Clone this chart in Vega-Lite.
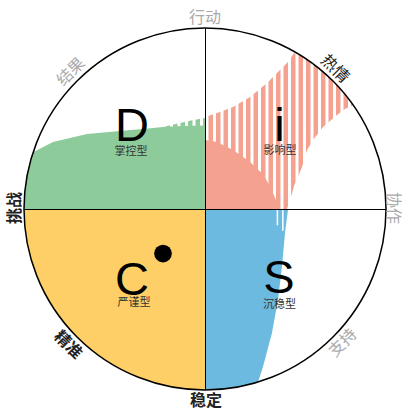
{
  "$schema": "https://vega.github.io/schema/vega-lite/v6.json",
  "width": 402,
  "height": 410,
  "autosize": "none",
  "padding": 0,
  "background": "white",
  "config": {"view": {"stroke": null}},
  "datasets": {
    "quadC": [{"x": 0, "y": 0, "t0": 3.14159, "t1": 4.71239, "r": 1}],
    "ring": [{"x": 0, "y": 0, "t0": 0, "t1": 6.2832, "r": 1}],
    "greenStripe": [
      {"x": -0.232, "y": 0.453, "y2": 0},
      {"x": -0.15, "y": 0.472, "y2": 0},
      {"x": -0.07, "y": 0.49, "y2": 0},
      {"x": 0, "y": 0.503, "y2": 0}
    ],
    "greenSolid": [
      {"x": -1.0, "y": 0, "y2": 0},
      {"x": -0.995, "y": 0.0999, "y2": 0},
      {"x": -0.99, "y": 0.141, "y2": 0},
      {"x": -0.98, "y": 0.199, "y2": 0},
      {"x": -0.97, "y": 0.243, "y2": 0},
      {"x": -0.96, "y": 0.28, "y2": 0},
      {"x": -0.95, "y": 0.313, "y2": 0},
      {"x": -0.84, "y": 0.37, "y2": 0},
      {"x": -0.652, "y": 0.414, "y2": 0},
      {"x": -0.47, "y": 0.431, "y2": 0},
      {"x": -0.287, "y": 0.448, "y2": 0},
      {"x": -0.232, "y": 0.453, "y2": 0},
      {"x": -0.12, "y": 0.458, "y2": 0},
      {"x": 0, "y": 0.462, "y2": 0}
    ],
    "dStripes": [
      {"x": -0.2265, "y": 0.3, "y2": 0.6}, {"x": -0.1851, "y": 0.3, "y2": 0.6}, {"x": -0.1436, "y": 0.3, "y2": 0.6},
      {"x": -0.1022, "y": 0.3, "y2": 0.6}, {"x": -0.0608, "y": 0.3, "y2": 0.6}, {"x": -0.0193, "y": 0.3, "y2": 0.6}
    ],
    "salmonStripe": [
      {"x": 0, "y": 0.508, "y2": 0},
      {"x": 0.083, "y": 0.536, "y2": 0},
      {"x": 0.155, "y": 0.564, "y2": 0},
      {"x": 0.249, "y": 0.619, "y2": 0},
      {"x": 0.343, "y": 0.696, "y2": 0},
      {"x": 0.398, "y": 0.751, "y2": 0},
      {"x": 0.453, "y": 0.807, "y2": 0},
      {"x": 0.47, "y": 0.829, "y2": 0.05},
      {"x": 0.492, "y": 0.862, "y2": 0.127},
      {"x": 0.536, "y": 0.844, "y2": 0.232},
      {"x": 0.564, "y": 0.826, "y2": 0.326},
      {"x": 0.597, "y": 0.802, "y2": 0.381},
      {"x": 0.652, "y": 0.758, "y2": 0.453},
      {"x": 0.729, "y": 0.684, "y2": 0.519},
      {"x": 0.773, "y": 0.634, "y2": 0.552},
      {"x": 0.815, "y": 0.579, "y2": 0.572}
    ],
    "iStripes": [
      {"x": 0.011, "y": 0, "y2": 0.95}, {"x": 0.0525, "y": 0, "y2": 0.95}, {"x": 0.0939, "y": 0, "y2": 0.95},
      {"x": 0.1354, "y": 0, "y2": 0.95}, {"x": 0.1768, "y": 0, "y2": 0.95}, {"x": 0.2182, "y": 0, "y2": 0.95},
      {"x": 0.2597, "y": 0, "y2": 0.95}, {"x": 0.3011, "y": 0, "y2": 0.95}, {"x": 0.3425, "y": 0, "y2": 0.95},
      {"x": 0.384, "y": 0, "y2": 0.95}, {"x": 0.4254, "y": 0, "y2": 0.95}, {"x": 0.4669, "y": 0, "y2": 0.95},
      {"x": 0.5083, "y": 0, "y2": 0.95}, {"x": 0.5497, "y": 0, "y2": 0.95}, {"x": 0.5912, "y": 0, "y2": 0.95},
      {"x": 0.6326, "y": 0, "y2": 0.95}, {"x": 0.674, "y": 0, "y2": 0.95}, {"x": 0.7155, "y": 0, "y2": 0.95},
      {"x": 0.7569, "y": 0, "y2": 0.95}, {"x": 0.7983, "y": 0, "y2": 0.95}, {"x": 0.8398, "y": 0, "y2": 0.95}
    ],
    "salmonSolid": [
      {"x": 0, "y": 0.381, "y2": 0},
      {"x": 0.066, "y": 0.37, "y2": 0},
      {"x": 0.155, "y": 0.326, "y2": 0},
      {"x": 0.249, "y": 0.26, "y2": 0},
      {"x": 0.32, "y": 0.193, "y2": 0},
      {"x": 0.365, "y": 0.116, "y2": 0},
      {"x": 0.392, "y": 0.05, "y2": 0},
      {"x": 0.403, "y": 0, "y2": 0}
    ],
    "blue": [
      {"x": 0, "y": -1.0, "y2": 0},
      {"x": 0.05, "y": -0.9987, "y2": 0},
      {"x": 0.1, "y": -0.995, "y2": 0},
      {"x": 0.15, "y": -0.9887, "y2": 0},
      {"x": 0.2, "y": -0.9798, "y2": 0},
      {"x": 0.25, "y": -0.9682, "y2": 0},
      {"x": 0.293, "y": -0.956, "y2": 0},
      {"x": 0.32, "y": -0.873, "y2": 0},
      {"x": 0.37, "y": -0.685, "y2": 0},
      {"x": 0.403, "y": -0.503, "y2": 0},
      {"x": 0.425, "y": -0.32, "y2": 0},
      {"x": 0.442, "y": -0.133, "y2": 0},
      {"x": 0.459, "y": 0, "y2": 0}
    ],
    "sStripes": [{"x": 0.4, "y": 0, "y2": -0.09}, {"x": 0.43, "y": 0, "y2": -0.12}],
    "vline": [{"x": 0.0028, "y": -1, "y2": 1}],
    "hline": [{"x": -1, "x2": 1, "y": -0.0028}],
    "letters": [
      {"label": "D", "x": -0.403, "y": 0.376},
      {"label": "i", "x": 0.412, "y": 0.376},
      {"label": "C", "x": -0.403, "y": -0.475},
      {"label": "S", "x": 0.409, "y": -0.464}
    ],
    "subtitles": [
      {"label": "掌控型", "x": -0.409, "y": 0.316},
      {"label": "影响型", "x": 0.414, "y": 0.318},
      {"label": "严谨型", "x": -0.392, "y": -0.52},
      {"label": "沉稳型", "x": 0.412, "y": -0.528}
    ],
    "labels": [
      {"label": "行动", "x": 0, "y": 1.055, "emph": "low"},
      {"label": "热情", "x": 0.718, "y": 0.773, "emph": "mid"},
      {"label": "协作", "x": 1.04, "y": 0.006, "emph": "low"},
      {"label": "支持", "x": 0.762, "y": -0.74, "emph": "low"},
      {"label": "稳定", "x": 0.006, "y": -1.061, "emph": "high"},
      {"label": "精准", "x": -0.757, "y": -0.751, "emph": "high"},
      {"label": "挑战", "x": -1.05, "y": 0.006, "emph": "high"},
      {"label": "结果", "x": -0.74, "y": 0.757, "emph": "low"}
    ],
    "dot": [{"x": -0.232, "y": -0.246}]
  },
  "encoding": {
    "x": {"field": "x", "type": "quantitative", "scale": {"domain": [-1.1326, 1.0884], "nice": false, "zero": false}, "axis": null},
    "y": {"field": "y", "type": "quantitative", "scale": {"domain": [-1.1105, 1.1547], "nice": false, "zero": false}, "axis": null}
  },
  "layer": [
    {
      "data": {"name": "quadC"},
      "mark": {"type": "arc", "color": "#fecf66"},
      "encoding": {
        "theta": {"field": "t0", "type": "quantitative", "scale": null, "stack": null},
        "theta2": {"field": "t1"},
        "radius": {"field": "r", "type": "quantitative", "scale": {"type": "linear", "domain": [0, 1], "range": [0, 181], "zero": true}}
      }
    },
    {
      "data": {"name": "greenStripe"},
      "mark": {"type": "area", "color": "#8ecb9b"},
      "encoding": {"y2": {"field": "y2"}}
    },
    {
      "data": {"name": "dStripes"},
      "mark": {"type": "rule", "color": "#ffffff", "strokeWidth": 3},
      "encoding": {"y2": {"field": "y2"}}
    },
    {
      "data": {"name": "greenSolid"},
      "mark": {"type": "area", "color": "#8ecb9b"},
      "encoding": {"y2": {"field": "y2"}}
    },
    {
      "data": {"name": "salmonStripe"},
      "mark": {"type": "area", "color": "#f4a190"},
      "encoding": {"y2": {"field": "y2"}}
    },
    {
      "data": {"name": "iStripes"},
      "mark": {"type": "rule", "color": "#ffffff", "strokeWidth": 3},
      "encoding": {"y2": {"field": "y2"}}
    },
    {
      "data": {"name": "salmonSolid"},
      "mark": {"type": "area", "color": "#f4a190"},
      "encoding": {"y2": {"field": "y2"}}
    },
    {
      "data": {"name": "blue"},
      "mark": {"type": "area", "color": "#6cbae0"},
      "encoding": {"y2": {"field": "y2"}}
    },
    {
      "data": {"name": "sStripes"},
      "mark": {"type": "rule", "color": "#ffffff", "strokeWidth": 1.5},
      "encoding": {"y2": {"field": "y2"}}
    },
    {
      "data": {"name": "ring"},
      "mark": {"type": "arc", "filled": false, "stroke": "#000000", "strokeWidth": 1.5, "fill": null},
      "encoding": {
        "theta": {"field": "t0", "type": "quantitative", "scale": null, "stack": null},
        "theta2": {"field": "t1"},
        "radius": {"field": "r", "type": "quantitative", "scale": {"type": "linear", "domain": [0, 1], "range": [0, 181], "zero": true}}
      }
    },
    {
      "data": {"name": "vline"},
      "mark": {"type": "rule", "color": "#000000", "strokeWidth": 1},
      "encoding": {"y2": {"field": "y2"}}
    },
    {
      "data": {"name": "hline"},
      "mark": {"type": "rule", "color": "#000000", "strokeWidth": 1},
      "encoding": {"x2": {"field": "x2"}}
    },
    {
      "data": {"name": "letters"},
      "mark": {"type": "text", "font": "Liberation Sans", "fontSize": 47, "align": "center", "baseline": "alphabetic", "color": "#000000"},
      "encoding": {"text": {"field": "label"}}
    },
    {
      "data": {"name": "subtitles"},
      "mark": {"type": "text", "font": "Noto Sans CJK SC", "fontSize": 11, "align": "center", "baseline": "middle", "color": "#333333"},
      "encoding": {"text": {"field": "label"}}
    },
    {
      "data": {"name": "labels"},
      "transform": [{"filter": "datum.label == '行动'"}],
      "mark": {"type": "text", "font": "Noto Sans CJK SC", "fontSize": 16, "align": "center", "baseline": "middle", "angle": 0},
      "encoding": {"text": {"field": "label"}, "color": {"field": "emph", "type": "nominal", "scale": {"domain": ["high", "mid", "low"], "range": ["#222222", "#222222", "#aaaaaa"]}, "legend": null}}
    },
    {
      "data": {"name": "labels"},
      "transform": [{"filter": "datum.label == '稳定'"}],
      "mark": {"type": "text", "font": "Noto Sans CJK SC", "fontSize": 16, "fontWeight": "bold", "align": "center", "baseline": "middle", "angle": 0},
      "encoding": {"text": {"field": "label"}, "color": {"field": "emph", "type": "nominal", "scale": {"domain": ["high", "mid", "low"], "range": ["#222222", "#222222", "#aaaaaa"]}, "legend": null}}
    },
    {
      "data": {"name": "labels"},
      "transform": [{"filter": "datum.label == '热情'"}],
      "mark": {"type": "text", "font": "Noto Sans CJK SC", "fontSize": 16, "align": "center", "baseline": "middle", "angle": 45},
      "encoding": {"text": {"field": "label"}, "color": {"field": "emph", "type": "nominal", "scale": {"domain": ["high", "mid", "low"], "range": ["#222222", "#222222", "#aaaaaa"]}, "legend": null}}
    },
    {
      "data": {"name": "labels"},
      "transform": [{"filter": "datum.label == '精准'"}],
      "mark": {"type": "text", "font": "Noto Sans CJK SC", "fontSize": 16, "fontWeight": "bold", "align": "center", "baseline": "middle", "angle": 45},
      "encoding": {"text": {"field": "label"}, "color": {"field": "emph", "type": "nominal", "scale": {"domain": ["high", "mid", "low"], "range": ["#222222", "#222222", "#aaaaaa"]}, "legend": null}}
    },
    {
      "data": {"name": "labels"},
      "transform": [{"filter": "datum.label == '结果' || datum.label == '支持'"}],
      "mark": {"type": "text", "font": "Noto Sans CJK SC", "fontSize": 16, "align": "center", "baseline": "middle", "angle": 315},
      "encoding": {"text": {"field": "label"}, "color": {"field": "emph", "type": "nominal", "scale": {"domain": ["high", "mid", "low"], "range": ["#222222", "#222222", "#aaaaaa"]}, "legend": null}}
    },
    {
      "data": {"name": "labels"},
      "transform": [{"filter": "datum.label == '挑战'"}],
      "mark": {"type": "text", "font": "Noto Sans CJK SC", "fontSize": 16, "fontWeight": "bold", "align": "center", "baseline": "middle", "angle": 270},
      "encoding": {"text": {"field": "label"}, "color": {"field": "emph", "type": "nominal", "scale": {"domain": ["high", "mid", "low"], "range": ["#222222", "#222222", "#aaaaaa"]}, "legend": null}}
    },
    {
      "data": {"name": "labels"},
      "transform": [{"filter": "datum.label == '协作'"}],
      "mark": {"type": "text", "font": "Noto Sans CJK SC", "fontSize": 16, "align": "center", "baseline": "middle", "angle": 90},
      "encoding": {"text": {"field": "label"}, "color": {"field": "emph", "type": "nominal", "scale": {"domain": ["high", "mid", "low"], "range": ["#222222", "#222222", "#aaaaaa"]}, "legend": null}}
    },
    {
      "data": {"name": "dot"},
      "mark": {"type": "point", "filled": true, "color": "#000000", "size": 314, "opacity": 1, "shape": "circle"}
    }
  ]
}
